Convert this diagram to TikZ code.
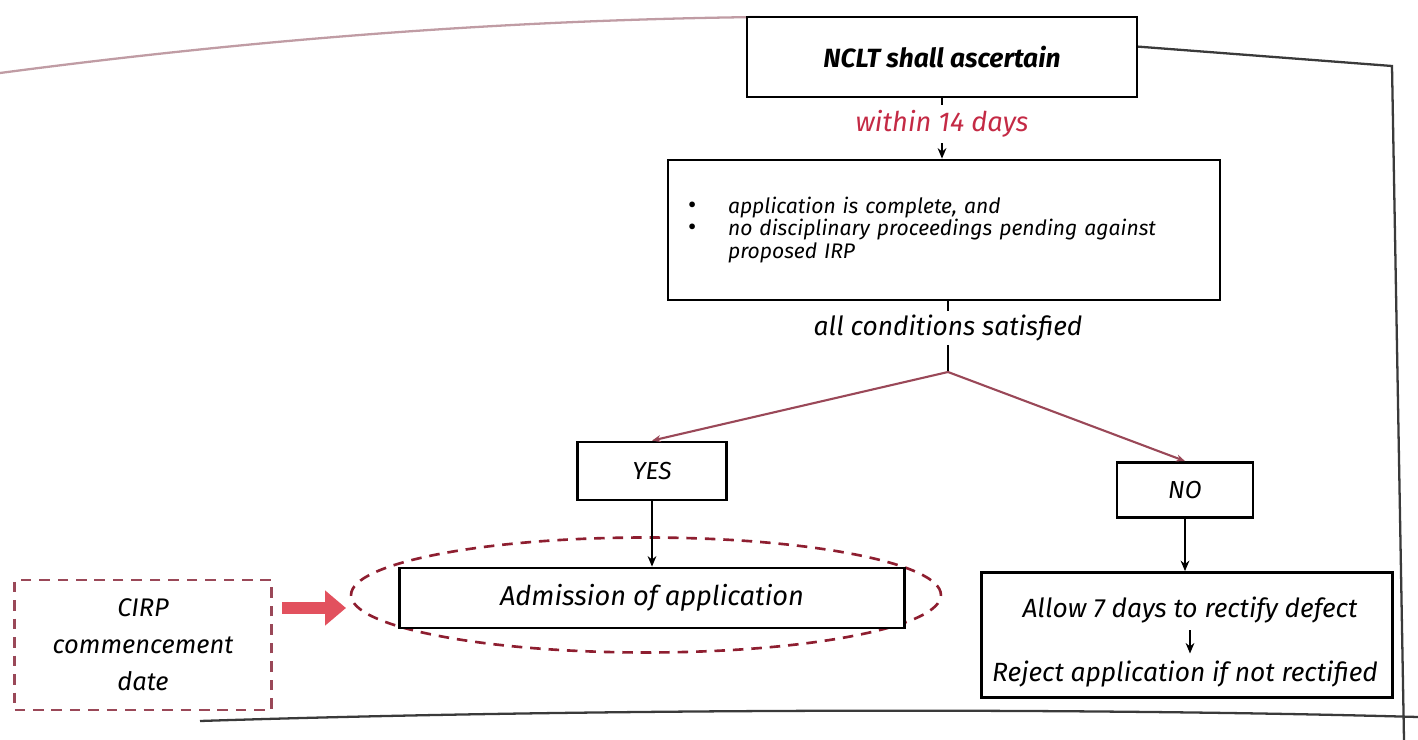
\documentclass[tikz,border=0pt]{standalone}
\usepackage{fontspec}
\setmainfont{Fira Sans}
\usetikzlibrary{arrows.meta,shapes.geometric}

\definecolor{inkred}{HTML}{C42A45}
\definecolor{darkred}{HTML}{8E1E30}
\definecolor{dustyred}{HTML}{9A4858}
\definecolor{framegray}{HTML}{3A3A3A}
\definecolor{framepink}{HTML}{C09CA4}
\definecolor{arrowred}{HTML}{E2515E}

\tikzset{
  box/.style={draw=black, line width=1.6pt, fill=white, inner sep=0pt, font=\itshape},
  dashbox/.style={draw=darkred, line width=1.5pt, dash pattern=on 6pt off 4.5pt},
  link/.style={draw=black, line width=0.8pt},
  split/.style={draw=dustyred, line width=1.2pt, -{Stealth[length=5pt,width=4pt]}},
  flowarrow/.style={draw=black, line width=0.8pt, -{Stealth[length=6pt,width=5pt]}},
  framestroke/.style={line width=1.3pt},
}

\begin{document}
\begin{tikzpicture}[x=0.02cm, y=-0.02cm]
\useasboundingbox (0,0) rectangle (1418,740);

% page frame behind the chart
\draw[framestroke, framepink] (0,73) .. controls (250,40) and (500,20) .. (760,17);
\draw[framestroke, framegray] (1130,46) -- (1392,66) -- (1404,740);
\draw[framestroke, framegray] (200,721) .. controls (600,708) and (1100,708) .. (1418,717);

% top of the chart
\node[box, minimum width=7.8cm, minimum height=1.6cm, font=\bfseries\itshape\fontsize{15}{17}\selectfont]
  (nclt) at (942,57) {NCLT shall ascertain};
\node[text=inkred, font=\itshape\fontsize{15.5}{17}\selectfont, inner sep=3pt]
  (within) at (942,124) {within 14 days};

\node[box, minimum width=11.04cm, minimum height=2.8cm, align=left, text width=10.24cm,
      font=\itshape\fontsize{12}{13}\selectfont]
  (cond) at (944,230)
  {\makebox[0.8cm][l]{\upshape\Large\textbullet}application is complete, and\\
   \makebox[0.8cm][l]{\upshape\Large\textbullet}no disciplinary proceedings pending against\\
   \hspace*{0.8cm}proposed IRP\\[8pt]};

\draw[link] (nclt.south) -- (within.north);
\draw[flowarrow] (within.south) -- (within.south |- cond.north);

\node[font=\itshape\fontsize{15}{17}\selectfont, inner sep=2pt]
  (cond-label) at (948,328) {all conditions satisfied};
\draw[link] (cond-label.north |- cond.south) -- (cond-label.north);
\coordinate (fork) at (948,372);
\draw[link] (cond-label.south) -- (fork);

% outcomes
\node[box, minimum width=2.98cm, minimum height=1.16cm, font=\itshape\fontsize{14}{16}\selectfont]
  (yes) at (652,471) {YES};
\node[box, minimum width=2.72cm, minimum height=1.1cm, font=\itshape\fontsize{14}{16}\selectfont]
  (no) at (1185,490) {NO};
\draw[split] (fork) -- (yes.north);
\draw[split] (fork) -- (no.north);

% admission branch
\node[dashbox, ellipse, minimum width=11.8cm, minimum height=2.3cm]
  (admit-ring) at (646,595) {};
\node[box, minimum width=10.1cm, minimum height=1.2cm, font=\itshape\fontsize{15.5}{18}\selectfont]
  (admit) at (652,598) {Admission of application};
\draw[flowarrow] (yes.south) -- (admit.north);

\node[dashbox, draw=dustyred, minimum width=5.14cm, minimum height=2.6cm, align=center,
      font=\itshape\fontsize{14.5}{21}\selectfont]
  (cirp) at (143,645) {CIRP\\commencement\\date};
\coordinate (cirp-tip) at (282,608);
\coordinate (ring-tip) at (346,608);
\draw[arrowred, line width=7pt, -{Triangle[length=0.42cm, width=0.68cm]}] (cirp-tip) -- (ring-tip);

% rejection branch
\node[box, minimum width=8.22cm, minimum height=2.5cm] (reject) at (1187,635) {};
\node[font=\itshape\fontsize{15}{17}\selectfont, inner sep=4pt]
  (allow-txt) at (1190,610) {Allow 7 days to rectify defect};
\node[font=\itshape\fontsize{15}{17}\selectfont, inner sep=4pt]
  (reject-txt) at (1185,674) {Reject application if not rectified};
\draw[flowarrow] (no.south) -- (no.south |- reject.north);
\draw[flowarrow] (allow-txt.south) -- (allow-txt.south |- reject-txt.north);
\end{tikzpicture}
\end{document}
